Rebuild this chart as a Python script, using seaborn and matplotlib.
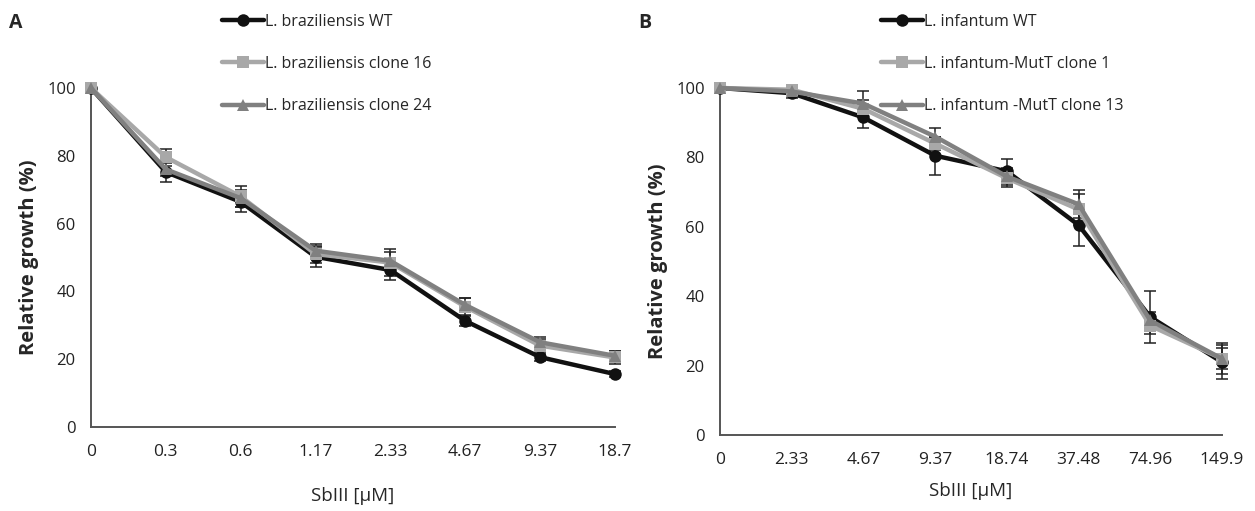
import numpy as np
import pandas as pd
import matplotlib
matplotlib.use("Agg")
import matplotlib.pyplot as plt
import seaborn as sns

sns.set_style("white")
plt.rcParams['font.family'] = ['Open Sans', 'DejaVu Sans']

# panel A data
conc_a = ["0", "0.3", "0.6", "1.17", "2.33", "4.67", "9.37", "18.7"]
names_a = ["L. braziliensis WT", "L. braziliensis clone 16", "L. braziliensis clone 24"]
wt_a = [100, 75.2, 66.4, 50.2, 46.3, 31.3, 20.6, 15.6]
c16_a = [100, 79.6, 68.0, 51.0, 48.5, 35.5, 24.0, 20.5]
c24_a = [100, 76.0, 67.5, 52.0, 49.0, 36.0, 25.0, 21.0]
wt_a_err = [0, 3, 3, 3, 3, 1.5, 1, 1]
c16_a_err = [0, 2.5, 3, 2.5, 4, 2.5, 2, 2]
c24_a_err = [0, 2, 2.5, 2, 2.5, 2, 1.5, 1.5]

# panel B data
conc_b = ["0", "2.33", "4.67", "9.37", "18.74", "37.48", "74.96", "149.9"]
names_b = ["L. infantum WT", "L. infantum-MutT clone 1", "L. infantum -MutT clone 13"]
wt_b = [100, 98.5, 91.5, 80.5, 76.0, 60.5, 34.0, 21.0]
c1_b = [100, 99.5, 94.0, 84.0, 74.0, 65.0, 31.5, 22.0]
c13_b = [100, 99.0, 95.5, 86.0, 74.5, 66.5, 33.0, 22.0]
wt_b_err = [0, 1.5, 3, 5.5, 3.5, 6, 7.5, 5]
c1_b_err = [0, 1, 2.5, 2, 2.5, 4.5, 2.5, 3]
c13_b_err = [0, 1, 3.5, 2.5, 2.5, 4, 2.5, 4.5]

colors = ["#111111", "#a8a8a8", "#808080"]
markers = ["o", "s", "^"]
axis_col = "#555555"


def panel(ax, conc, names, series, errs, letter, leg_x, xpad):
    rows = []
    for name, vals in zip(names, series):
        for i, v in enumerate(vals):
            rows.append({"pos": i, "growth": v, "strain": name})
    df = pd.DataFrame(rows)
    # error bars first, lines on top
    for vals, err in zip(series, errs):
        ax.errorbar(range(len(conc)), vals, yerr=err, fmt="none", ecolor="#222222",
                    elinewidth=1.1, capsize=4, capthick=1.1, zorder=2, clip_on=False)
    sns.lineplot(data=df, x="pos", y="growth", hue="strain", style="strain",
                 hue_order=names, style_order=names, palette=colors,
                 markers=dict(zip(names, markers)), dashes=False, linewidth=3.2,
                 markersize=9, markeredgewidth=0, ax=ax, zorder=3, clip_on=False)
    ax.set_xlim(0, len(conc) - 1)
    ax.set_ylim(0, 100)
    ax.set_xticks(range(len(conc)))
    ax.set_xticklabels(conc)
    ax.set_yticks(range(0, 101, 20))
    ax.tick_params(axis="y", direction="inout", length=10, width=1.2, color=axis_col,
                   labelsize=12, labelcolor="#222222", pad=6)
    ax.tick_params(axis="x", direction="in", length=7, width=1.2, color=axis_col,
                   labelsize=12.5, labelcolor="#222222", pad=12)
    sns.despine(ax=ax)
    for s in ["left", "bottom"]:
        ax.spines[s].set_color(axis_col)
        ax.spines[s].set_linewidth(1.4)
    ax.set_xlabel("SbIII [µM]", fontsize=13.5, labelpad=xpad)
    ax.set_ylabel("Relative growth (%)", fontsize=14.5, fontweight="bold", labelpad=6)
    handles, labels = ax.get_legend_handles_labels()
    ax.legend(handles, labels, loc="upper left", bbox_to_anchor=(leg_x, 0.985),
              bbox_transform=ax.figure.transFigure, frameon=False, fontsize=11.5,
              handlelength=2.6, handletextpad=0.1, labelspacing=1.63,
              borderaxespad=0)
    ax.figure.text(ax.get_position().x0 - 0.065, 0.955, letter, fontsize=14,
                   fontweight="bold", va="center")


fig = plt.figure(figsize=(12.55, 5.11), dpi=100)
ax1 = fig.add_axes([0.0725, 0.1644, 0.4175, 0.6634])
ax2 = fig.add_axes([0.5737, 0.1487, 0.4, 0.6791])

panel(ax1, conc_a, names_a, [wt_a, c16_a, c24_a], [wt_a_err, c16_a_err, c24_a_err], "A", 0.172, 20)
panel(ax2, conc_b, names_b, [wt_b, c1_b, c13_b], [wt_b_err, c1_b_err, c13_b_err], "B", 0.697, 10)

fig.savefig("out.png", dpi=100)
